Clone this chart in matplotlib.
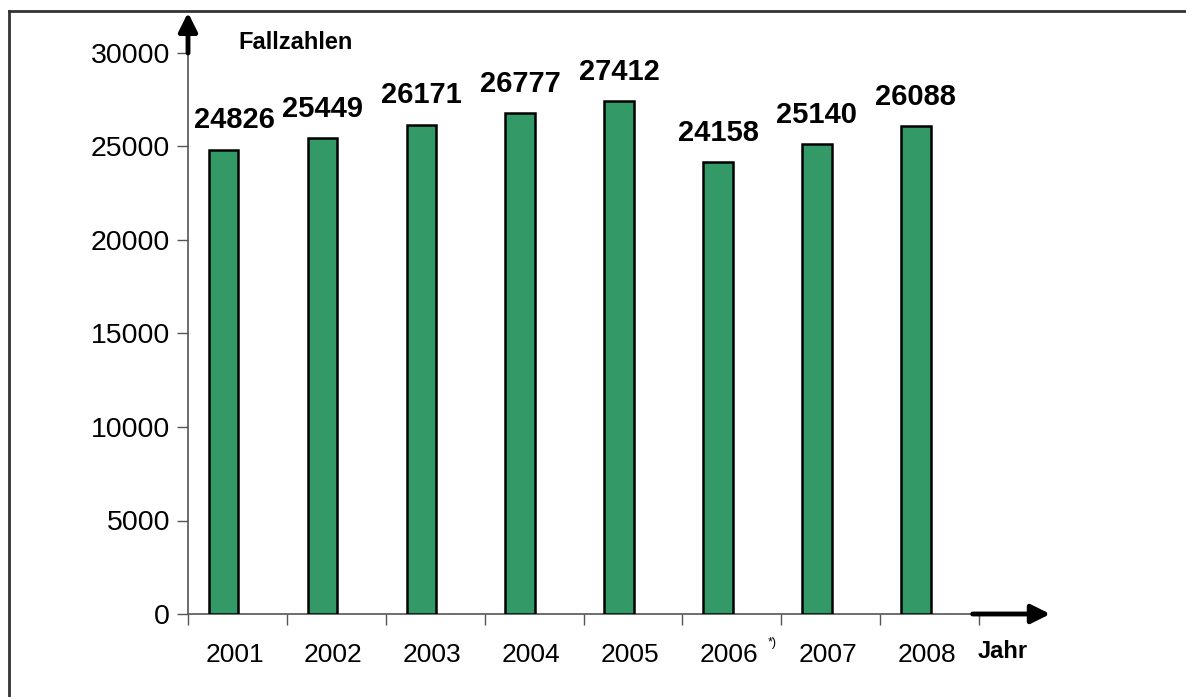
import numpy as np
import matplotlib
matplotlib.use('Agg')
import matplotlib.pyplot as plt
from matplotlib.lines import Line2D

plt.rcParams['font.family'] = ['Liberation Sans', 'DejaVu Sans']

years = ['2001', '2002', '2003', '2004', '2005', '2006', '2007', '2008']
cases = [24826, 25449, 26171, 26777, 27412, 24158, 25140, 26088]
yticks = [0, 5000, 10000, 15000, 20000, 25000, 30000]

fig = plt.figure(figsize=(11.86, 6.97), dpi=100)
ax = fig.add_axes([188/1186, 83/697, 791/1186, 561/697])

x = np.arange(len(years))
bar_x = x - 0.14
ax.bar(bar_x, cases, width=0.30, color='#339966', edgecolor='black', linewidth=1.8, zorder=3)

# value labels, first one nudged right (away from the axis)
for i, v in enumerate(cases):
    dx = 8 if i == 0 else 0
    ax.annotate(str(v), (bar_x[i], v), xytext=(dx, 11), textcoords='offset points',
                ha='center', va='bottom', fontsize=21, fontweight='bold')

ax.set_xlim(-0.5, len(years) - 0.5)
ax.set_ylim(0, 30000)
ax.set_yticks(yticks)
ax.set_yticklabels([str(t) for t in yticks], fontsize=20.5)
ax.tick_params(axis='y', length=8, width=1, color='#555555', pad=5)

# ticks between categories, labels at centres
ax.set_xticks(np.arange(len(years) + 1) - 0.5)
ax.set_xticklabels([])
ax.set_xticks(x - 0.03, minor=True)
ax.set_xticklabels(years, minor=True, fontsize=19)
ax.tick_params(axis='x', which='major', length=8, width=1, color='#555555', direction='out')
ax.tick_params(axis='x', which='minor', length=0, pad=21)
ax.annotate('*)', (5 - 0.03, 0), xytext=(31, -21), textcoords='offset points',
            xycoords=('data', 'data'), fontsize=9, ha='center', va='center')

for s in ['top', 'right']:
    ax.spines[s].set_visible(False)
for s in ['left', 'bottom']:
    ax.spines[s].set_color('#555555')
    ax.spines[s].set_linewidth(1.2)

# axis arrows
ax.annotate('', xy=(0, 1.072), xytext=(0, 1.0), xycoords='axes fraction',
            arrowprops=dict(arrowstyle='-|>', lw=3.5, color='black', mutation_scale=28,
                            shrinkA=0, shrinkB=0), annotation_clip=False)
ax.annotate('', xy=(1.09, 0), xytext=(0.992, 0), xycoords='axes fraction',
            arrowprops=dict(arrowstyle='-|>', lw=3.5, color='black', mutation_scale=28,
                            shrinkA=0, shrinkB=0), annotation_clip=False)

ax.text(0.1365, 1.019, 'Fallzahlen', transform=ax.transAxes, ha='center', va='center',
        fontsize=17, fontweight='bold')
ax.text(1.030, -0.066, 'Jahr', transform=ax.transAxes, ha='center', va='center',
        fontsize=17, fontweight='bold')

# outer frame (left and top edges)
fig.add_artist(Line2D([9/1186, 9/1186], [0, 1 - 11/697], color='#333333', lw=2))
fig.add_artist(Line2D([9/1186, 1], [1 - 11/697, 1 - 11/697], color='#333333', lw=2))

fig.savefig('out.png', dpi=100)
